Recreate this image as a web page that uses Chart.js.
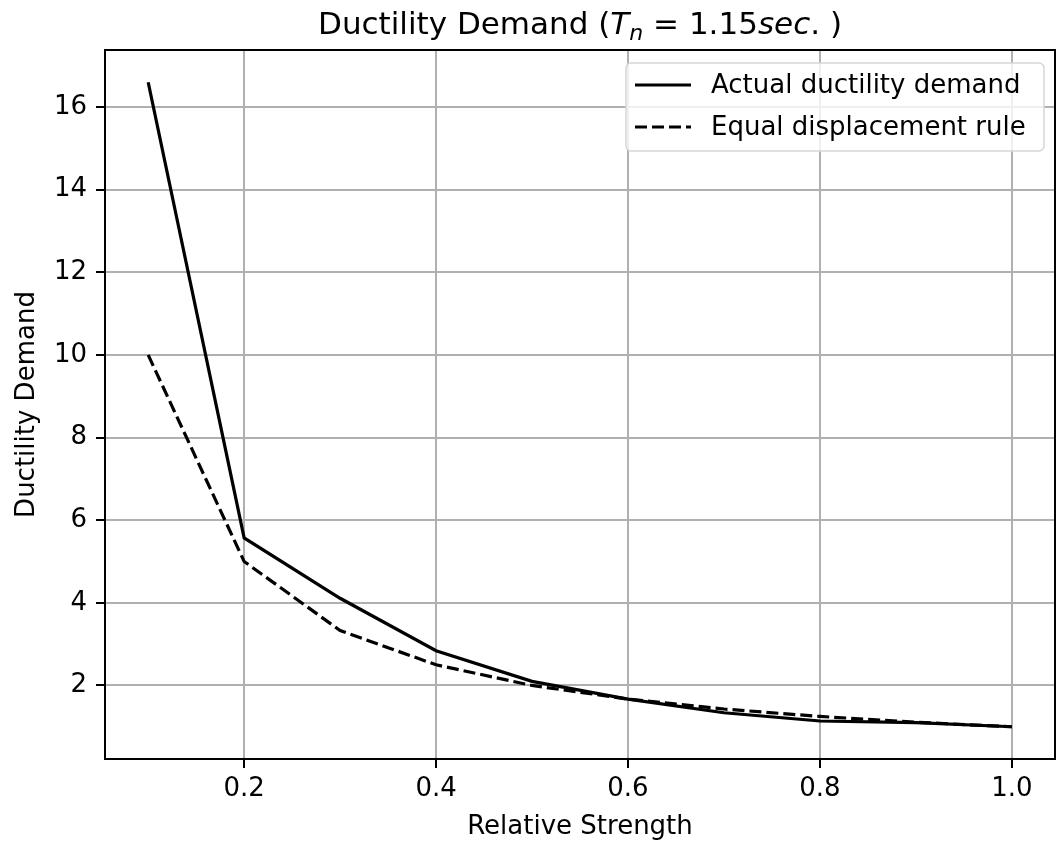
<!DOCTYPE html>
<html>
<head>
<meta charset="utf-8">
<script src="https://cdn.jsdelivr.net/npm/chart.js@4.4.1/dist/chart.umd.min.js"></script>
<style>
  html, body { margin: 0; padding: 0; background: #fff; }
  #wrap { width: 1056px; height: 843px; }
</style>
</head>
<body>
<div id="wrap"><canvas id="chartLine" width="1056" height="843"></canvas></div>
<script>
/* =========== 1. DATA =========== */
const strength    = [0.1, 0.2, 0.3, 0.4, 0.5, 0.6, 0.7, 0.8, 0.9, 1.0];
const actualMu    = [16.6, 5.57, 4.11, 2.84, 2.1, 1.67, 1.34, 1.14, 1.1, 1.0];
const equalDispMu = [10, 5, 3.33, 2.5, 2, 1.67, 1.43, 1.25, 1.11, 1.0];
const xTicks      = [0.2, 0.4, 0.6, 0.8, 1.0];
const yTicks      = [2, 4, 6, 8, 10, 12, 14, 16];

const FONT = "'DejaVu Sans', sans-serif";

function points(ys) {
    return strength.map(function (x, i) { return { x: x, y: ys[i] }; });
}

/* =========== 2. TITLE (mathtext-like) =========== */
const titlePlugin = {
    id: 'mplTitle',
    afterDraw: function (chart) {
        const ctx = chart.ctx;
        const parts = [
            { t: 'Ductility Demand (', f: '31px ' + FONT, dy: 0 },
            { t: 'T', f: 'italic 31px ' + FONT, dy: 0 },
            { t: 'n', f: 'italic 22px ' + FONT, dy: 6 },
            { t: ' = 1.15', f: '31px ' + FONT, dy: 0 },
            { t: 'sec', f: 'italic 31px ' + FONT, dy: 0 },
            { t: '. )', f: '31px ' + FONT, dy: 0 }
        ];
        ctx.save();
        ctx.fillStyle = '#000';
        ctx.textBaseline = 'alphabetic';
        let total = 0;
        parts.forEach(function (p) { ctx.font = p.f; total += ctx.measureText(p.t).width; });
        const area = chart.chartArea;
        let x = (area.left + area.right) / 2 - total / 2;
        parts.forEach(function (p) {
            ctx.font = p.f;
            ctx.fillText(p.t, x, 34 + p.dy);
            x += ctx.measureText(p.t).width;
        });
        ctx.restore();
    }
};

/* =========== 3. FRAME + LEGEND =========== */
const framePlugin = {
    id: 'mplFrame',
    afterDatasetsDraw: function (chart) {
        const ctx = chart.ctx;
        const a = chart.chartArea;
        ctx.save();
        ctx.strokeStyle = '#000';
        ctx.lineWidth = 2;
        ctx.strokeRect(a.left, a.top, a.right - a.left, a.bottom - a.top);
        ctx.restore();
    }
};

const legendPlugin = {
    id: 'mplLegend',
    afterDraw: function (chart) {
        const ctx = chart.ctx;
        const area = chart.chartArea;
        const w = 418, h = 88;
        const x0 = area.right - 11 - w, y0 = area.top + 13;
        ctx.save();
        ctx.fillStyle = 'rgba(255,255,255,0.8)';
        ctx.strokeStyle = '#d6d6d6';
        ctx.lineWidth = 1.5;
        ctx.beginPath();
        ctx.roundRect(x0, y0, w, h, 5);
        ctx.fill();
        ctx.stroke();
        ctx.font = '26px ' + FONT;
        ctx.textBaseline = 'middle';
        chart.data.datasets.forEach(function (ds, i) {
            const yy = y0 + 22 + i * 42;
            ctx.strokeStyle = ds.borderColor;
            ctx.lineWidth = ds.borderWidth;
            ctx.setLineDash(ds.borderDash || []);
            ctx.beginPath();
            ctx.moveTo(x0 + 9, yy);
            ctx.lineTo(x0 + 65, yy);
            ctx.stroke();
            ctx.setLineDash([]);
            ctx.fillStyle = '#000';
            ctx.fillText(ds.label, x0 + 85, yy + 1);
        });
        ctx.restore();
    }
};

/* =========== 4. CHART =========== */
const ctxLine = document.getElementById('chartLine').getContext('2d');
new Chart(ctxLine, {
    type: 'line',
    data: {
        datasets: [{
            label: 'Actual ductility demand',
            data: points(actualMu),
            borderColor: '#000',
            borderWidth: 3.2,
            pointRadius: 0,
            fill: false,
            tension: 0
        }, {
            label: 'Equal displacement rule',
            data: points(equalDispMu),
            borderColor: '#000',
            borderWidth: 3.2,
            borderDash: [12, 5],
            pointRadius: 0,
            fill: false,
            tension: 0
        }]
    },
    options: {
        responsive: false,
        animation: false,
        layout: { padding: { top: 50, right: 1, left: 0, bottom: 0 } },
        plugins: {
            legend: { display: false },
            tooltip: { enabled: false }
        },
        scales: {
            x: {
                type: 'linear',
                min: 0.055,
                max: 1.045,
                afterBuildTicks: function (s) { s.ticks = xTicks.map(function (v) { return { value: v }; }); },
                afterFit: function (s) { s.height = 84; },
                ticks: {
                    color: '#000',
                    font: { family: FONT, size: 26 },
                    padding: 6,
                    maxRotation: 0,
                    callback: function (v) { return v.toFixed(1); }
                },
                grid: { color: '#b0b0b0', lineWidth: 2, tickColor: '#000', tickLength: 9 },
                border: { color: '#000', width: 2 },
                title: { display: true, text: 'Relative Strength', color: '#000', font: { family: FONT, size: 26 }, padding: { top: 0, bottom: 0 } }
            },
            y: {
                min: 0.22,
                max: 17.38,
                afterBuildTicks: function (s) { s.ticks = yTicks.map(function (v) { return { value: v }; }); },
                afterFit: function (s) { s.width = 105; },
                ticks: {
                    color: '#000',
                    font: { family: FONT, size: 26 },
                    padding: 9
                },
                grid: { color: '#b0b0b0', lineWidth: 2, tickColor: '#000', tickLength: 9 },
                border: { color: '#000', width: 2 },
                title: { display: true, text: 'Ductility Demand', color: '#000', font: { family: FONT, size: 26 }, padding: { top: 12, bottom: 12 } }
            }
        }
    },
    plugins: [titlePlugin, framePlugin, legendPlugin]
});
</script>
</body>
</html>
